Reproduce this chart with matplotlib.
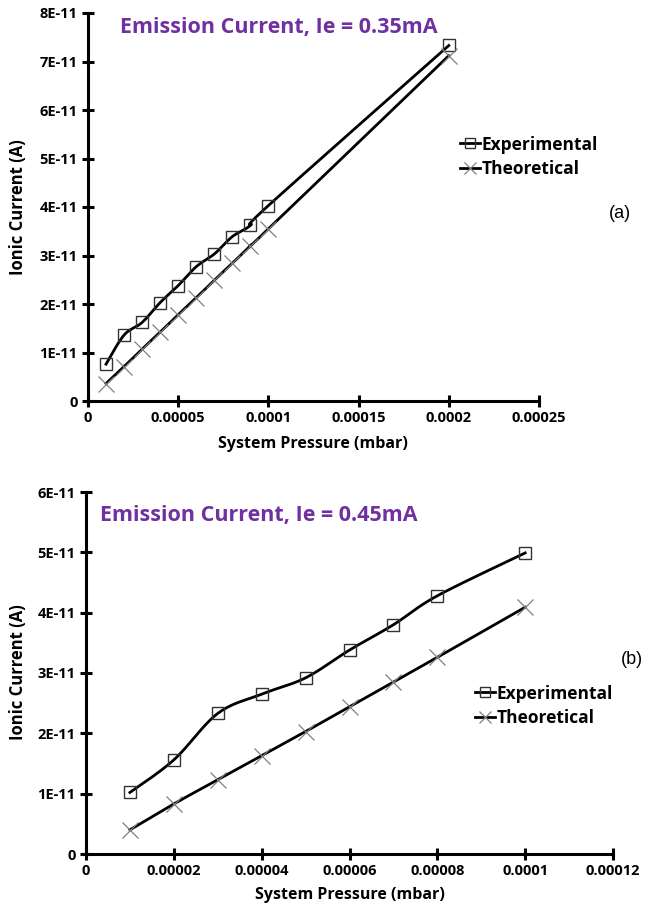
import numpy as np
import matplotlib
matplotlib.use("Agg")
import matplotlib.pyplot as plt

plt.rcParams['font.family'] = ['Open Sans', 'DejaVu Sans']

UNIT = 1e-11

# panel (a): Ie = 0.35 mA
pa_x = [0.00001, 0.00002, 0.00003, 0.00004, 0.00005, 0.00006, 0.00007, 0.00008, 0.00009, 0.0001, 0.0002]
pa_exp = [0.76, 1.36, 1.62, 2.03, 2.38, 2.77, 3.03, 3.39, 3.62, 4.03, 7.33]
pa_theo = [0.36, 0.71, 1.07, 1.42, 1.78, 2.13, 2.49, 2.84, 3.20, 3.55, 7.12]
pa_xticks = [0, 0.00005, 0.0001, 0.00015, 0.0002, 0.00025]
pa_xlabels = ["0", "0.00005", "0.0001", "0.00015", "0.0002", "0.00025"]
pa_yticks = [0, 1, 2, 3, 4, 5, 6, 7, 8]
pa_ylabels = ["0", "1E-11", "2E-11", "3E-11", "4E-11", "5E-11", "6E-11", "7E-11", "8E-11"]

# panel (b): Ie = 0.45 mA
pb_x = [0.00001, 0.00002, 0.00003, 0.00004, 0.00005, 0.00006, 0.00007, 0.00008, 0.0001]
pb_exp = [1.02, 1.56, 2.33, 2.65, 2.92, 3.38, 3.80, 4.28, 4.99]
pb_theo = [0.40, 0.83, 1.23, 1.63, 2.03, 2.44, 2.85, 3.26, 4.09]
pb_xticks = [0, 0.00002, 0.00004, 0.00006, 0.00008, 0.0001, 0.00012]
pb_xlabels = ["0", "0.00002", "0.00004", "0.00006", "0.00008", "0.0001", "0.00012"]
pb_yticks = [0, 1, 2, 3, 4, 5, 6]
pb_ylabels = ["0", "1E-11", "2E-11", "3E-11", "4E-11", "5E-11", "6E-11"]

PURPLE = "#7030A0"


def smooth(x, y, n=20):
    # Catmull-Rom style smoothing like Excel's "smoothed line"
    x = np.asarray(x, float)
    y = np.asarray(y, float)
    px = np.concatenate([[x[0]], x, [x[-1]]])
    py = np.concatenate([[y[0]], y, [y[-1]]])
    xs, ys = [], []
    t = np.linspace(0, 1, n)
    for i in range(1, len(px) - 2):
        p0, p1, p2, p3 = (np.array([px[j], py[j]]) for j in range(i - 1, i + 3))
        c1 = p1 + (p2 - p0) / 6
        c2 = p2 - (p3 - p1) / 6
        pts = ((1 - t) ** 3)[:, None] * p1 + (3 * (1 - t) ** 2 * t)[:, None] * c1 \
            + (3 * (1 - t) * t ** 2)[:, None] * c2 + (t ** 3)[:, None] * p2
        xs.extend(pts[:, 0])
        ys.extend(pts[:, 1])
    return np.array(xs), np.array(ys)


SQ = dict(marker='s', ms=8.5, mfc='none', mec='#333333', mew=1.0)
XX = dict(marker='x', ms=11, mec='#808080', mew=0.9)


def draw_panel(ax, x, exp, theo, xticks, xlabels, yticks, ylabels):
    exp = [v * UNIT for v in exp]
    theo = [v * UNIT for v in theo]
    sx, sy = smooth(x, exp)
    ax.plot(sx, sy, color='black', lw=2.0, zorder=2)
    ax.plot(x, exp, ls='none', zorder=3, **SQ)
    sx, sy = smooth(x, theo)
    ax.plot(sx, sy, color='black', lw=2.0, zorder=2)
    ax.plot(x, theo, ls='none', zorder=3, **XX)

    ax.set_xlim(xticks[0], xticks[-1])
    ax.set_ylim(yticks[0] * UNIT, yticks[-1] * UNIT)
    ax.set_xticks(xticks)
    ax.set_xticklabels(xlabels)
    ax.set_yticks([v * UNIT for v in yticks])
    ax.set_yticklabels(ylabels)
    for s in ['top', 'right']:
        ax.spines[s].set_visible(False)
    for s in ['left', 'bottom']:
        ax.spines[s].set_linewidth(2.2)
    ax.tick_params(direction='inout', length=9, width=2.2, labelsize=10.5, pad=3)
    for lab in ax.get_xticklabels() + ax.get_yticklabels():
        lab.set_fontweight('bold')
    ax.patch.set_alpha(0)

    # proxy artists for the legend
    h1, = ax.plot([], [], color='black', lw=2.0, **SQ)
    h2, = ax.plot([], [], color='black', lw=2.0, **XX)
    return h1, h2


fig = plt.figure(figsize=(6.47, 9.09), dpi=100)

ax1 = fig.add_axes([88 / 647, 1 - 401 / 909, (539 - 88) / 647, (401 - 13) / 909])
h1, h2 = draw_panel(ax1, pa_x, pa_exp, pa_theo, pa_xticks, pa_xlabels, pa_yticks, pa_ylabels)
fig.legend([h1, h2], ["Experimental", "Theoretical"], loc='center left',
           bbox_to_anchor=(444 / 647, 1 - 157 / 909), frameon=False, handlelength=1.2,
           handletextpad=0.05, labelspacing=0.4, markerscale=0.8,
           prop={'weight': 'bold', 'size': 12.5})
fig.text(120 / 647, 1 - 27 / 909, "Emission Current, Ie = 0.35mA", color=PURPLE,
         fontsize=15.5, fontweight='bold', va='center', ha='left')
fig.text(313 / 647, 1 - 444 / 909, "System Pressure (mbar)", fontsize=11.5,
         fontweight='bold', ha='center', va='center')
fig.text(18 / 647, 1 - 207 / 909, "Ionic Current (A)", fontsize=12,
         fontweight='bold', ha='center', va='center', rotation=90)
fig.text(620 / 647, 1 - 213 / 909, "(a)", fontsize=13, ha='center', va='center',
         family='Liberation Sans')

ax2 = fig.add_axes([86 / 647, 1 - 854 / 909, (613 - 86) / 647, (854 - 492) / 909])
h1, h2 = draw_panel(ax2, pb_x, pb_exp, pb_theo, pb_xticks, pb_xlabels, pb_yticks, pb_ylabels)
fig.legend([h1, h2], ["Experimental", "Theoretical"], loc='center left',
           bbox_to_anchor=(459 / 647, 1 - 706 / 909), frameon=False, handlelength=1.2,
           handletextpad=0.05, labelspacing=0.4, markerscale=0.8,
           prop={'weight': 'bold', 'size': 12.5})
fig.text(100 / 647, 1 - 515 / 909, "Emission Current, Ie = 0.45mA", color=PURPLE,
         fontsize=15.5, fontweight='bold', va='center', ha='left')
fig.text(350 / 647, 1 - 895 / 909, "System Pressure (mbar)", fontsize=11.5,
         fontweight='bold', ha='center', va='center')
fig.text(18 / 647, 1 - 672 / 909, "Ionic Current (A)", fontsize=12,
         fontweight='bold', ha='center', va='center', rotation=90)
fig.text(632 / 647, 1 - 660 / 909, "(b)", fontsize=13, ha='center', va='center',
         family='Liberation Sans')

fig.savefig("out.png", dpi=100)
